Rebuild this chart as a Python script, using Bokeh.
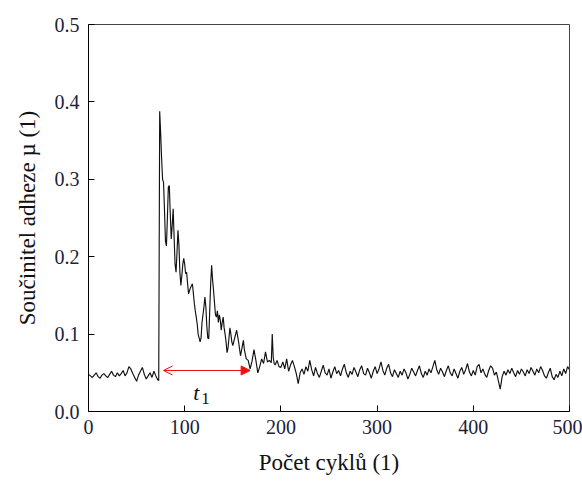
from bokeh.plotting import figure
from bokeh.models import Range1d, FixedTicker, PrintfTickFormatter, Arrow, NormalHead, OpenHead, Label
from bokeh.embed import file_html
from bokeh.resources import INLINE

# ---- data ----
cycles = [0, 2, 4, 6, 8, 10, 12, 14, 16, 18, 20, 22, 24, 26, 28, 30, 32, 34, 36, 38,
          40, 42, 44, 46, 48, 50, 52, 54, 56, 58, 60, 62, 64, 66, 68, 70, 72, 73,
          74, 75, 76, 77, 78, 79, 80, 81, 82, 83, 84, 85, 86, 87, 88, 89, 90, 91, 92, 93,
          94, 95, 96, 97, 98, 99, 100, 101, 102, 103, 104, 106, 108, 110, 111, 112, 113,
          114, 116, 117, 118, 120, 121, 122, 123, 124, 125, 126, 127, 128, 129, 130, 131,
          132, 133, 134, 135, 136, 137, 138, 139, 140, 141, 142, 143, 144, 145, 146, 147,
          148, 149, 150, 152, 154, 156, 158, 160, 161, 162, 164, 166, 168, 170, 172, 174,
          176, 178, 180, 182, 184, 186, 188, 190, 191, 192, 193, 194, 196, 198, 200, 202,
          204, 206, 208, 210, 212, 214, 216, 218, 220,
          222, 224, 226, 228, 230, 232, 234, 236, 238, 240, 242, 244, 246, 248, 250,
          252, 254, 256, 258, 260, 262, 264, 266, 268, 270, 272, 274, 276, 278, 280,
          282, 284, 286, 288, 290, 292, 294, 296, 298, 300, 302, 304, 306, 308, 310,
          312, 314, 316, 318, 320, 322, 324, 326, 328, 330, 332, 334, 336, 338, 340,
          342, 344, 346, 348, 350, 352, 354, 356, 358, 360, 362, 364, 366, 368, 370,
          372, 374, 376, 378, 380, 382, 384, 386, 388, 390, 392, 394, 396, 398, 400,
          402, 404, 406, 408, 410, 412, 414, 416, 418, 420, 422, 424, 426, 428, 430,
          432, 434, 436, 438, 440, 442, 444, 446, 448, 450, 452, 454, 456, 458, 460,
          462, 464, 466, 468, 470, 472, 474, 476, 478, 480, 482, 484, 486, 488, 490,
          492, 494, 496, 498, 500]

mu = [0.048, 0.046, 0.044, 0.047, 0.050, 0.045, 0.043, 0.047, 0.049, 0.046, 0.044, 0.048,
      0.052, 0.047, 0.045, 0.050, 0.046, 0.049, 0.053, 0.046, 0.050, 0.058, 0.055, 0.049,
      0.044, 0.039, 0.047, 0.052, 0.057, 0.048, 0.042, 0.046, 0.050, 0.044, 0.052, 0.046,
      0.041, 0.040,
      0.388, 0.360, 0.327, 0.300, 0.296, 0.260, 0.220, 0.214, 0.250, 0.290, 0.292, 0.255,
      0.223, 0.240, 0.262, 0.225, 0.190, 0.180, 0.205, 0.234, 0.215, 0.180, 0.163, 0.175,
      0.190, 0.198, 0.190, 0.178, 0.180, 0.165, 0.152, 0.160, 0.165, 0.140, 0.130, 0.122,
      0.113, 0.100, 0.090, 0.095, 0.115, 0.135, 0.148, 0.135, 0.110, 0.095, 0.094, 0.130,
      0.165, 0.189, 0.170, 0.156, 0.140, 0.125, 0.122, 0.130, 0.115, 0.125, 0.118, 0.105,
      0.115, 0.122, 0.108, 0.100, 0.090, 0.076, 0.082, 0.095, 0.108, 0.100, 0.090, 0.085,
      0.095, 0.105, 0.090, 0.072, 0.085, 0.092, 0.080, 0.068, 0.066, 0.055, 0.065, 0.080,
      0.066, 0.050, 0.058, 0.068, 0.062, 0.077, 0.064, 0.066, 0.063, 0.100, 0.070, 0.062,
      0.060, 0.066, 0.058, 0.057, 0.064, 0.055, 0.068, 0.052, 0.060, 0.066, 0.058, 0.049,
      0.036, 0.050,
      0.055, 0.048, 0.058, 0.052, 0.066, 0.054, 0.046, 0.057, 0.049, 0.044, 0.052, 0.060,
      0.050, 0.047, 0.055, 0.043, 0.051, 0.058, 0.049, 0.053, 0.046, 0.055, 0.061, 0.050,
      0.044, 0.052, 0.048, 0.057, 0.051, 0.045, 0.054, 0.059, 0.049, 0.047, 0.056, 0.050,
      0.043, 0.052, 0.058, 0.049, 0.055, 0.064, 0.053, 0.047, 0.056, 0.061, 0.050, 0.045,
      0.054, 0.049, 0.044, 0.052, 0.047, 0.055, 0.050, 0.042, 0.048, 0.056, 0.051, 0.046,
      0.053, 0.059, 0.049, 0.044, 0.052, 0.047, 0.055, 0.050, 0.058, 0.066, 0.054, 0.048,
      0.056, 0.051, 0.045, 0.053, 0.059, 0.050, 0.046, 0.055, 0.049, 0.043, 0.052, 0.057,
      0.048, 0.054, 0.062, 0.051, 0.046, 0.053, 0.047, 0.058, 0.061, 0.050, 0.055, 0.048,
      0.044, 0.053, 0.059, 0.056, 0.047, 0.051, 0.040, 0.029, 0.045, 0.052, 0.047, 0.054,
      0.049, 0.056, 0.050, 0.045, 0.053, 0.048, 0.055, 0.051, 0.046, 0.054, 0.049, 0.057,
      0.052, 0.047, 0.055, 0.050, 0.058, 0.053, 0.046, 0.043, 0.050, 0.056, 0.045, 0.041,
      0.048, 0.044, 0.052, 0.046, 0.055, 0.049, 0.058, 0.054]

x_ticks = [0, 100, 200, 300, 400, 500]
y_ticks = [0.0, 0.1, 0.2, 0.3, 0.4, 0.5]

# t1 interval marker
t1_start = 78
t1_end = 168
t1_level = 0.053
t1_label_x = 112
t1_label_y = 0.024

SERIF = "Liberation Serif"

p = figure(width=582, height=482, output_backend="svg", toolbar_location=None,
           x_range=Range1d(0, 500), y_range=Range1d(0, 0.5),
           min_border_left=88, min_border_right=13, min_border_top=24, min_border_bottom=71)
p.background_fill_color = "white"
p.border_fill_color = "white"
p.outline_line_color = "#444444"
p.outline_line_width = 1
p.xgrid.visible = False
p.ygrid.visible = False

p.line(cycles, mu, line_color="#111111", line_width=1.15)

p.add_layout(Arrow(start=OpenHead(size=9, line_color="#ee1111", line_width=1),
                   end=NormalHead(size=9, fill_color="#ee1111", line_color="#ee1111"),
                   x_start=t1_start, y_start=t1_level, x_end=t1_end, y_end=t1_level,
                   line_color="#ee1111", line_width=1.2))

p.add_layout(Label(x=t1_label_x, y=t1_label_y, text="t", text_font=SERIF,
                   text_font_style="italic", text_font_size="22px", text_color="#111111",
                   text_align="center", text_baseline="alphabetic"))
p.add_layout(Label(x=t1_label_x, y=t1_label_y, x_offset=5, y_offset=-6, text="1",
                   text_font=SERIF, text_font_size="17px", text_color="#111111",
                   text_align="left", text_baseline="alphabetic"))

for ax in (p.xaxis[0], p.yaxis[0]):
    ax.major_tick_in = 6
    ax.major_tick_out = 0
    ax.minor_tick_in = 0
    ax.minor_tick_out = 0
    ax.axis_line_color = "black"
    ax.major_tick_line_color = "black"
    ax.major_label_text_font = SERIF
    ax.major_label_text_font_size = "20px"
    ax.major_label_text_color = "#1c2238"
    ax.axis_label_text_font = SERIF
    ax.axis_label_text_font_size = "23px"
    ax.axis_label_text_font_style = "normal"
    ax.axis_label_text_color = "#111111"

p.xaxis.ticker = FixedTicker(ticks=x_ticks)
p.yaxis.ticker = FixedTicker(ticks=y_ticks)
p.xaxis.formatter = PrintfTickFormatter(format="%d")
p.yaxis.formatter = PrintfTickFormatter(format="%.1f")
p.xaxis.axis_label = "Počet cyklů (1)"
p.yaxis.axis_label = "Součinitel adheze µ (1)"
p.xaxis.major_label_standoff = 8
p.yaxis.major_label_standoff = 9
p.xaxis.axis_label_standoff = 13
p.yaxis.axis_label_standoff = 12

open("out.html", "w").write(file_html(p, INLINE))
